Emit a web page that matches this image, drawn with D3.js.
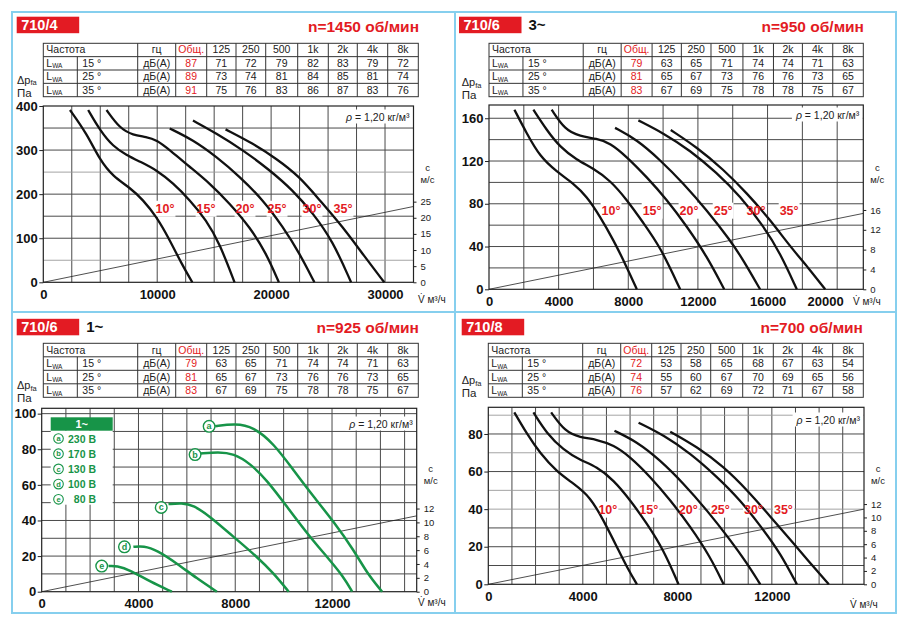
<!DOCTYPE html>
<html>
<head>
<meta charset="utf-8">
<script src="https://cdnjs.cloudflare.com/ajax/libs/d3/7.8.5/d3.min.js"></script>
<style>
body { margin: 0; background: #fff; }
svg { display: block; font-family: "Liberation Sans", Arial, sans-serif; }
.tbl text { font-family: "Liberation Sans Narrow", "Arial Narrow", "Liberation Sans", sans-serif; font-size: 10.5px; fill: #222; }
</style>
</head>
<body>
<svg id="chart" width="900" height="626"></svg>
<script>
// table headings
const freqs = ["125", "250", "500", "1k", "2k", "4k", "8k"];
const rowAngles = ["15 °", "25 °", "35 °"];
const curveAngles = ["10°", "15°", "20°", "25°", "30°", "35°"];

// 710/4, n=1450
const total710_4 = [87, 89, 91];
const bands710_4 = [[71, 72, 79, 82, 83, 79, 72], [73, 74, 81, 84, 85, 81, 74], [75, 76, 83, 86, 87, 83, 76]];
const curves710_4 = [
    [[2340, 391], [3800, 338], [4970, 277], [6130, 240], [7590, 215], [8760, 187], [9930, 149], [11100, 96], [12120, 43], [13080, 0]],
    [[3940, 391], [4970, 345], [6130, 308], [7300, 289], [8470, 274], [9930, 255], [11390, 225], [12850, 187], [14310, 141], [15480, 88], [16790, 0]],
    [[5550, 391], [6720, 349], [7880, 334], [9050, 330], [9930, 323], [11100, 300], [12850, 262], [14600, 225], [16360, 179], [18110, 126], [19570, 66], [20680, 0]],
    [[11100, 349], [13140, 323], [15190, 285], [17230, 240], [19280, 187], [21030, 126], [22490, 66], [23800, 0]],
    [[13140, 367], [15190, 338], [17530, 300], [19860, 255], [21900, 209], [23660, 157], [25410, 94], [27020, 0]],
    [[16000, 347], [18400, 315], [20440, 281], [22490, 240], [24240, 187], [26280, 126], [28040, 64], [29930, 0]]
];
const labelX710_4 = [10685, 14290, 17710, 20520, 23590, 26310];

// 710/6 3~, n=950
const total710_6 = [79, 81, 83];
const bands710_6 = [[63, 65, 71, 74, 74, 71, 63], [65, 67, 73, 76, 76, 73, 65], [67, 69, 75, 78, 78, 75, 67]];
const curves710_6 = [
    [[1460, 168], [2160, 146], [2930, 124], [3890, 110], [4850, 99], [5610, 87], [6380, 68], [7150, 46], [7910, 21], [8490, 0]],
    [[2550, 168], [3310, 149], [4080, 133], [5040, 121], [6000, 113], [6950, 102], [7910, 84], [8870, 62], [9830, 40], [10980, 0]],
    [[3600, 168], [4370, 149], [5230, 143], [6190, 141], [6950, 137], [7910, 124], [9060, 105], [10210, 84], [11360, 59], [12510, 31], [13510, 0]],
    [[7240, 151], [8490, 140], [9830, 121], [11170, 99], [12510, 74], [13850, 46], [14620, 27], [15570, 0]],
    [[8580, 158], [10020, 146], [11550, 130], [13080, 109], [14430, 87], [15770, 59], [16720, 34], [17680, 0]],
    [[10440, 149], [11930, 133], [13470, 112], [14810, 90], [16150, 65], [17300, 40], [18350, 20], [19310, 0]]
];
const labelX710_6 = [7010, 9370, 11490, 13450, 15340, 17240];

// 710/6 1~, n=925, voltage steps
const total710_6s = [79, 81, 83];
const bands710_6s = [[63, 65, 71, 74, 74, 71, 63], [65, 67, 73, 76, 76, 73, 65], [67, 69, 75, 78, 78, 75, 67]];
const voltLetters = ["a", "b", "c", "d", "e"];
const voltNames = ["230 В", "170 В", "130 В", "100 В", "80 В"];
const curves710_6s = [
    [[7170, 92.9], [8000, 94.4], [8760, 92.5], [9590, 83.2], [10410, 68.2], [11240, 53.3], [12070, 39.3], [12900, 23.4], [13450, 10.3], [14070, 0]],
    [[6550, 77.6], [7310, 78.5], [7930, 77.6], [8620, 72], [9310, 62.6], [10140, 47.7], [10970, 32.7], [11790, 19.6], [12480, 8.4], [12830, 0]],
    [[5240, 49.2], [5790, 49.9], [6280, 48.6], [6970, 42.1], [7930, 30.8], [8900, 19.6], [9590, 10.3], [10210, 0]],
    [[3790, 25.2], [4210, 25.8], [4760, 23.4], [5590, 15.9], [6410, 7.5], [7240, 0]],
    [[2760, 14.4], [3100, 14.6], [3660, 12.1], [4480, 5.6], [5380, 0]]
];
const voltMarkX = [6920, 6340, 4940, 3420, 2480];
const voltMarkY = [92.9, 77, 47.3, 25.2, 14.4];

// 710/8, n=700
const total710_8 = [72, 74, 76];
const bands710_8 = [[53, 58, 65, 68, 67, 63, 54], [55, 60, 67, 70, 69, 65, 56], [57, 62, 69, 72, 71, 67, 58]];
const curves710_8 = [
    [[1100, 91.5], [1620, 80.3], [2190, 69.7], [2900, 59.9], [3600, 53.7], [4310, 46.6], [4870, 34.2], [5440, 20], [5930, 7.6], [6290, 0]],
    [[1910, 91.5], [2470, 80.3], [3180, 71.5], [3880, 66.1], [4590, 62.6], [5300, 55.5], [6000, 44.9], [6710, 32.4], [7420, 18.3], [8050, 0]],
    [[2660, 91.5], [3250, 81.2], [3880, 78.2], [4590, 77.1], [5300, 74.1], [6000, 67.9], [6850, 57.3], [7700, 44.9], [8550, 30.7], [9390, 14.7], [9960, 0]],
    [[5340, 81.7], [6290, 75.9], [7270, 66.1], [8260, 53.7], [9250, 39.5], [10240, 23.6], [10950, 11.2], [11510, 0]],
    [[6360, 86], [7420, 79.4], [8550, 69.7], [9670, 57.3], [10660, 44.9], [11650, 28.9], [12360, 16.5], [13060, 0]],
    [[7700, 81.2], [8830, 73.2], [9960, 62.6], [10950, 50.2], [11940, 36], [12920, 21.8], [13630, 11.2], [14410, 0]]
];
const labelX710_8 = [5060, 6790, 8460, 9820, 11220, 12490];

const RED = "#e31b23";
const GREEN = "#179448";
const BLUE = "#86cfee";

// layout of the four panels (pixels)
const panels = [
    {
        name: "710/4", phase: "", speed: "n=1450 об/мин",
        box: [16.7, 16.7], speedXY: [419, 31.5], dp: [17, 83.5],
        table: [43.3, 43.3, 418.3, 96.7], total: total710_4, bands: bands710_4,
        plot: { l: 43.3, t: 106, r: 413.5, b: 282.3 }, xMax: 32500, yMax: 400,
        xStep: 2500, yStep: 50, light: [50, 250],
        xTicks: [0, 10000, 20000, 30000], yTicks: [0, 100, 200, 300, 400], lastTickShift: 0,
        cMax: 25, cPa: 183, cTicks: [0, 5, 10, 15, 20, 25], sysEnd: 172,
        rhoY: 117, cY: 171, vXY: [418, 303],
        curves: curves710_4, labelX: labelX710_4, labelY: 168
    },
    {
        name: "710/6", phase: "3~", speed: "n=950 об/мин",
        box: [459, 16.7], speedXY: [864, 31.5], dp: [461.7, 86],
        table: [489, 43.3, 863.3, 96.7], total: total710_6, bands: bands710_6,
        plot: { l: 489, t: 105, r: 863.3, b: 289.3 }, xMax: 21500, yMax: 172.4,
        xStep: 2000, yStep: 20, light: [],
        xTicks: [0, 4000, 8000, 12000, 16000, 20000], yTicks: [0, 40, 80, 120, 160], lastTickShift: -12,
        cMax: 16, cPa: 74.2, cTicks: [0, 4, 8, 12, 16], sysEnd: 71,
        rhoY: 115, cY: 171, vXY: [853, 305],
        curves: curves710_6, labelX: labelX710_6, labelY: 74
    },
    {
        name: "710/6", phase: "1~", speed: "n=925 об/мин",
        box: [16.7, 318.8], speedXY: [419, 333], dp: [17, 389],
        table: [43.3, 343.3, 418.3, 397.3], total: total710_6s, bands: bands710_6s,
        plot: { l: 41.7, t: 408.3, r: 416.7, b: 591.7 }, xMax: 15500, yMax: 103,
        xStep: 1000, yStep: 10, light: [],
        xTicks: [0, 4000, 8000, 12000], yTicks: [0, 20, 40, 60, 80, 100], lastTickShift: 0,
        cMax: 12, cPa: 46.7, cTicks: [0, 2, 4, 6, 8, 10, 12], sysEnd: 42.6,
        rhoY: 424, cY: 472, vXY: [418, 606],
        curves: null
    },
    {
        name: "710/8", phase: "", speed: "n=700 об/мин",
        box: [461.7, 318.8], speedXY: [863, 333], dp: [461.7, 384],
        table: [488.3, 343.3, 863.3, 397.3], total: total710_8, bands: bands710_8,
        plot: { l: 488.3, t: 407.3, r: 864, b: 584.3 }, xMax: 15900, yMax: 94.2,
        xStep: 1000, yStep: 10, light: [40, 50, 70, 90],
        xTicks: [0, 4000, 8000, 12000], yTicks: [0, 20, 40, 60, 80], lastTickShift: 0,
        cMax: 12, cPa: 42.7, cTicks: [0, 2, 4, 6, 8, 10, 12], sysEnd: 40,
        rhoY: 420, cY: 472, vXY: [850, 608],
        curves: curves710_8, labelX: labelX710_8, labelY: 40
    }
];

const svg = d3.select("#chart");

// light blue frame of the sheet
const frame = svg.append("g").attr("stroke", BLUE).attr("stroke-width", 2).attr("fill", "none");
frame.append("rect").attr("x", 12).attr("y", 12).attr("width", 884).attr("height", 601);
frame.append("line").attr("x1", 455).attr("x2", 455).attr("y1", 12).attr("y2", 613);
frame.append("line").attr("x1", 12).attr("x2", 896).attr("y1", 312).attr("y2", 312);

const colFrac = [0, .0907, .2517, .3531, .4357, .5139, .5931, .6784, .76, .8373, .9184, 1];

function drawTable(g, p) {
    const [x0, y0, x1, y1] = p.table;
    const cx = colFrac.map(f => x0 + f * (x1 - x0));
    const rh = (y1 - y0) / 4;
    const t = g.append("g").attr("class", "tbl");
    t.append("rect").attr("x", x0).attr("y", y0).attr("width", x1 - x0).attr("height", y1 - y0)
        .attr("fill", "none").attr("stroke", "#333").attr("stroke-width", 1);
    for (let i = 1; i < 4; i++) {
        t.append("line").attr("x1", x0).attr("x2", x1).attr("y1", y0 + i * rh).attr("y2", y0 + i * rh)
            .attr("stroke", "#333");
    }
    cx.slice(1, -1).forEach((x, i) => {
        t.append("line").attr("x1", x).attr("x2", x).attr("y1", i === 0 ? y0 + rh : y0).attr("y2", y1)
            .attr("stroke", "#333");
    });
    const mid = i => (cx[i] + cx[i + 1]) / 2;
    const base = r => y0 + r * rh + rh - 3.2;
    t.append("text").attr("x", cx[0] + 3).attr("y", base(0)).text("Частота");
    t.append("text").attr("x", mid(2)).attr("y", base(0)).attr("text-anchor", "middle").text("гц");
    t.append("text").attr("x", mid(3)).attr("y", base(0)).attr("text-anchor", "middle").style("fill", RED).text("Общ.");
    freqs.forEach((f, j) => t.append("text").attr("x", mid(4 + j)).attr("y", base(0)).attr("text-anchor", "middle").text(f));
    rowAngles.forEach((a, r) => {
        const lw = t.append("text").attr("x", cx[0] + 3).attr("y", base(r + 1));
        lw.append("tspan").text("L");
        lw.append("tspan").attr("font-size", "6.5px").attr("dy", 1.5).text("WA");
        t.append("text").attr("x", cx[1] + 5).attr("y", base(r + 1)).text(a);
        t.append("text").attr("x", mid(2)).attr("y", base(r + 1)).attr("text-anchor", "middle").text("дБ(А)");
        t.append("text").attr("x", mid(3)).attr("y", base(r + 1)).attr("text-anchor", "middle").style("fill", RED).text(p.total[r]);
        p.bands[r].forEach((v, j) => t.append("text").attr("x", mid(4 + j)).attr("y", base(r + 1)).attr("text-anchor", "middle").text(v));
    });
}

// white box behind a text, placed in the given layer
function backdrop(layer, textSel, pad) {
    const bb = textSel.node().getBBox();
    layer.append("rect")
        .attr("x", bb.x - pad).attr("y", bb.y - 1).attr("width", bb.width + 2 * pad).attr("height", bb.height + 2)
        .attr("fill", "#fff");
}

function drawPanel(p) {
    const g = svg.append("g");

    // title block
    g.append("rect").attr("x", p.box[0]).attr("y", p.box[1]).attr("width", 62.5).attr("height", 16.5).attr("fill", RED);
    g.append("text").attr("x", p.box[0] + 4.5).attr("y", p.box[1] + 13.3).attr("fill", "#fff")
        .attr("font-weight", "bold").attr("font-size", 14.5).text(p.name);
    if (p.phase) {
        g.append("text").attr("x", p.box[0] + 69.5).attr("y", p.box[1] + 13.5).attr("fill", "#111")
            .attr("font-weight", "bold").attr("font-size", 15).text(p.phase);
    }
    g.append("text").attr("x", p.speedXY[0]).attr("y", p.speedXY[1]).attr("text-anchor", "end")
        .attr("fill", RED).attr("font-weight", "bold").attr("font-size", 15.5).text(p.speed);

    drawTable(g, p);

    // y axis caption
    const dp = g.append("text").attr("x", p.dp[0]).attr("y", p.dp[1]).attr("font-size", 11).attr("fill", "#222");
    dp.append("tspan").text("Δp");
    dp.append("tspan").attr("font-size", 7.5).attr("dy", 1.5).text("fa");
    g.append("text").attr("x", p.dp[0]).attr("y", p.dp[1] + 13).attr("font-size", 11.5).attr("fill", "#222").text("Па");

    const x = d3.scaleLinear().domain([0, p.xMax]).range([p.plot.l, p.plot.r]);
    const y = d3.scaleLinear().domain([0, p.yMax]).range([p.plot.b, p.plot.t]);
    const c = d3.scaleLinear().domain([0, p.cMax]).range([p.plot.b, y(p.cPa)]);

    // grid
    const grid = g.append("g").attr("fill", "none");
    d3.range(p.xStep, p.xMax - 1, p.xStep).forEach(v => {
        grid.append("line").attr("x1", x(v)).attr("x2", x(v)).attr("y1", p.plot.t).attr("y2", p.plot.b)
            .attr("stroke", "#4a4a4a").attr("stroke-width", 1);
    });
    d3.range(p.yStep, p.yMax - 0.5, p.yStep).forEach(v => {
        const lt = p.light.includes(v);
        grid.append("line").attr("x1", p.plot.l).attr("x2", p.plot.r).attr("y1", y(v)).attr("y2", y(v))
            .attr("stroke", lt ? "#9a9a9a" : "#4a4a4a").attr("stroke-width", lt ? 0.9 : 1);
    });
    const bgLayer = g.append("g");
    g.append("rect").attr("x", p.plot.l).attr("y", p.plot.t).attr("width", p.plot.r - p.plot.l)
        .attr("height", p.plot.b - p.plot.t).attr("fill", "none").attr("stroke", "#222").attr("stroke-width", 1.2);

    // axes
    const ax = g.append("g").attr("transform", `translate(${p.plot.l},0)`)
        .call(d3.axisLeft(y).tickValues(p.yTicks).tickSize(4).tickPadding(1.5).tickFormat(d3.format("d")));
    const bx = g.append("g").attr("transform", `translate(0,${p.plot.b})`)
        .call(d3.axisBottom(x).tickValues(p.xTicks).tickSize(0).tickPadding(7.5).tickFormat(d3.format("d")));
    [ax, bx].forEach(a => {
        a.select(".domain").remove();
        a.selectAll("text").attr("font-size", 13).attr("font-weight", "bold").attr("fill", "#111")
            .attr("font-family", "'Liberation Sans', Arial, sans-serif");
        a.selectAll("line").attr("stroke", "#222");
    });
    bx.selectAll(".tick").filter(d => d === p.xTicks[p.xTicks.length - 1])
        .select("text").attr("dx", p.lastTickShift);
    const cx = g.append("g").attr("transform", `translate(${p.plot.r},0)`)
        .call(d3.axisRight(c).tickValues(p.cTicks).tickSize(3).tickPadding(4));
    cx.select(".domain").remove();
    cx.selectAll("text").attr("font-size", 9.5).attr("fill", "#222").attr("font-family", "'Liberation Sans', Arial, sans-serif");
    cx.selectAll("line").attr("stroke", "#222");
    g.append("text").attr("x", p.plot.r + 14).attr("y", p.cY).attr("text-anchor", "middle")
        .attr("font-size", 9.5).attr("fill", "#222").text("c");
    g.append("text").attr("x", p.plot.r + 14).attr("y", p.cY + 12).attr("text-anchor", "middle")
        .attr("font-size", 9.5).attr("fill", "#222").text("м/с");
    g.append("text").attr("x", p.vXY[0]).attr("y", p.vXY[1]).attr("font-size", 10).attr("fill", "#222").text("V̇ м³/ч");

    // system line
    g.append("line").attr("x1", x(0)).attr("y1", y(0)).attr("x2", x(p.xMax)).attr("y2", y(p.sysEnd))
        .attr("stroke", "#222").attr("stroke-width", 0.8);

    // density note
    const rho = g.append("text").attr("x", p.plot.r - 4).attr("y", p.rhoY + 3.5).attr("text-anchor", "end")
        .attr("font-size", 10.5).attr("fill", "#222");
    rho.append("tspan").attr("font-style", "italic").text("ρ");
    rho.append("tspan").text(" = 1,20 кг/м³");
    backdrop(bgLayer, rho, 3);

    const line = d3.line().x(d => x(d[0])).y(d => y(d[1])).curve(d3.curveBasis);

    if (p.curves) {
        p.curves.forEach(pts => {
            g.append("path").datum(pts).attr("d", line).attr("fill", "none")
                .attr("stroke", "#111").attr("stroke-width", 2.3);
        });
        p.labelX.forEach((lx, i) => {
            const t = g.append("text").attr("x", x(lx)).attr("y", y(p.labelY) + 4.5).attr("text-anchor", "middle")
                .attr("font-size", 12.5).attr("font-weight", "bold").attr("fill", RED).text(curveAngles[i]);
            backdrop(bgLayer, t, 1);
        });
    } else {
        curves710_6s.forEach(pts => {
            g.append("path").datum(pts).attr("d", line).attr("fill", "none")
                .attr("stroke", GREEN).attr("stroke-width", 2.5);
        });
        voltLetters.forEach((l, i) => {
            const mx = x(voltMarkX[i]), my = y(voltMarkY[i]);
            g.append("circle").attr("cx", mx).attr("cy", my).attr("r", 5.8)
                .attr("fill", "#fff").attr("stroke", GREEN).attr("stroke-width", 1.4);
            g.append("text").attr("x", mx).attr("y", my + 3).attr("text-anchor", "middle")
                .attr("font-size", 9).attr("font-weight", "bold").attr("fill", GREEN).text(l);
        });
        // legend of voltage steps
        const lg = g.append("g");
        lg.append("rect").attr("x", 50.7).attr("y", 430.7).attr("width", 62).attr("height", 74).attr("fill", "#fff");
        lg.append("rect").attr("x", 50.7).attr("y", 417.3).attr("width", 62).attr("height", 13.4).attr("fill", GREEN);
        lg.append("text").attr("x", 81.7).attr("y", 428).attr("text-anchor", "middle").attr("fill", "#fff")
            .attr("font-size", 11).attr("font-weight", "bold").text("1~");
        voltNames.forEach((v, i) => {
            const cy = 438.5 + i * 15.2;
            lg.append("circle").attr("cx", 58.5).attr("cy", cy).attr("r", 4.8)
                .attr("fill", "#fff").attr("stroke", GREEN).attr("stroke-width", 1.1);
            lg.append("text").attr("x", 58.5).attr("y", cy + 2.6).attr("text-anchor", "middle")
                .attr("font-size", 7.5).attr("font-weight", "bold").attr("fill", GREEN).text(voltLetters[i]);
            lg.append("text").attr("x", 96).attr("y", cy + 4).attr("text-anchor", "end")
                .attr("font-size", 10.5).attr("font-weight", "bold").attr("fill", GREEN).text(v);
        });
    }
}

panels.forEach(drawPanel);
</script>
</body>
</html>
